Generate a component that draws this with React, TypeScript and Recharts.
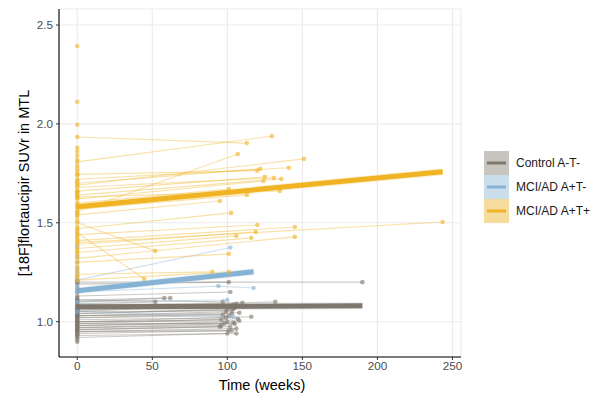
import { ComposedChart, Line, XAxis, YAxis, CartesianGrid } from 'recharts'

// visit weeks / SUVr values per subject (first visit is baseline)
const ctrlWeeks: number[][] = [
  [0, 190], [0, 101], [0, 102], [0, 52], [0, 58], [0, 62], [0, 132], [0, 110],
  [0, 106], [0, 101], [0, 104], [0, 99], [0, 103], [0, 108], [0, 116], [0, 107],
  [0, 96], [0, 100], [0, 96], [0, 102], [0, 106], [0, 100], [0, 106], [0, 95],
  [0, 105], [0, 101], [0, 98], [0, 103], [0, 100], [0, 104], [0, 97],
  [0, 103], [0, 99], [0, 105], [0, 102], [0, 108], [0, 101], [0, 97], [0, 104],
  [0], [0], [0], [0], [0], [0], [0], [0], [0],
]
const ctrlValues: number[][] = [
  [1.2, 1.2], [1.19, 1.2], [1.13, 1.15], [1.09, 1.1], [1.11, 1.12], [1.1, 1.12], [1.07, 1.1], [1.08, 1.095],
  [1.05, 1.09], [1.06, 1.08], [1.04, 1.065], [1.03, 1.05], [1.02, 1.04], [1.03, 1.045], [1.0, 1.025], [0.99, 1.015],
  [1.0, 1.01], [0.98, 1.0], [0.97, 0.98], [0.96, 0.975], [0.95, 0.965], [0.92, 0.94], [0.93, 0.94], [0.96, 0.975],
  [1.06, 1.07], [1.02, 1.03], [0.99, 0.99], [0.95, 0.955], [1.04, 1.06], [1.08, 1.085], [1.11, 1.1],
  [1.05, 1.055], [1.01, 1.02], [0.97, 0.99], [1.07, 1.075], [1.0, 1.005], [0.94, 0.955], [1.03, 1.035], [0.98, 0.995],
  [0.898], [0.91], [0.935], [1.01], [1.05], [1.12], [1.15], [1.17], [1.21],
]

const blueWeeks: number[][] = [
  [0, 102], [0, 94, 117.5], [0, 104], [0, 100],
  [0], [0], [0], [0], [0], [0], [0], [0],
]
const blueValues: number[][] = [
  [1.21, 1.375], [1.15, 1.18, 1.17], [1.05, 1.025], [1.1, 1.11],
  [1.38], [1.33], [1.3], [1.27], [1.25], [1.23], [1.18], [1.16],
]

const tauWeeks: number[][] = [
  [0, 129.7], [0, 113], [0, 107], [0, 151], [0, 141], [0, 122], [0, 120], [0, 125],
  [0, 131], [0, 136], [0, 124], [0, 101], [0, 135], [0, 113], [0, 95], [0, 102.5],
  [0, 120], [0, 145], [0, 119], [0, 106], [0, 116], [0, 145], [0, 243.5], [0, 101],
  [0, 52], [0, 44.6], [0, 90], [0, 101],
  [0], [0], [0], [0], [0], [0], [0], [0], [0], [0], [0], [0],
  [0], [0], [0], [0], [0], [0], [0], [0], [0], [0], [0],
  [0], [0], [0], [0], [0], [0],
]
const tauValues: number[][] = [
  [1.808, 1.938], [1.934, 1.903], [1.556, 1.848], [1.69, 1.823], [1.72, 1.778], [1.7, 1.773], [1.745, 1.763], [1.66, 1.732],
  [1.68, 1.727], [1.64, 1.722], [1.62, 1.711], [1.6, 1.671], [1.63, 1.661], [1.57, 1.641], [1.54, 1.61], [1.47, 1.55],
  [1.44, 1.489], [1.41, 1.479], [1.39, 1.454], [1.37, 1.434], [1.35, 1.424], [1.32, 1.429], [1.4, 1.504], [1.3, 1.343],
  [1.5, 1.358], [1.45, 1.217], [1.24, 1.252], [1.21, 1.252],
  [2.394], [2.112], [1.996], [1.88], [1.86], [1.84], [1.79], [1.76], [1.74], [1.71], [1.66], [1.63],
  [1.59], [1.53], [1.51], [1.48], [1.43], [1.42], [1.36], [1.34], [1.28], [1.26], [1.23],
  [1.82], [1.775], [1.65], [1.58], [1.55], [1.46],
]

// linear fits (start, end)
const fitWeeks: number[][] = [[0, 190], [0, 117.5], [0, 243.5]]
const fitValues: number[][] = [[1.075, 1.08], [1.157, 1.253], [1.581, 1.758]]

const groupNames = ['Control A-T-', 'MCI/AD A+T-', 'MCI/AD A+T+']
const groupColors = ['#7E776D', '#86B2D3', '#F0B323']
const ribbonColors = ['#C8C5C0', '#C9DDEA', '#F6DC9C']

const xTicks = [0, 50, 100, 150, 200, 250]
const yTicks = [1.0, 1.5, 2.0, 2.5]

const toPoints = (weeks: number[], values: number[]) =>
  weeks.map((t, i) => ({ t, v: values[i] }))

const FONT = '"Liberation Sans", Arial, sans-serif'

function subjectLines(weeks: number[][], values: number[][], g: number) {
  return weeks.map((w, i) => (
    <Line
      key={`s${g}_${i}`}
      data={toPoints(w, values[i])}
      dataKey="v"
      type="linear"
      stroke={groupColors[g]}
      strokeOpacity={0.4}
      strokeWidth={1.1}
      dot={{ r: 2.3, fill: groupColors[g], fillOpacity: 0.6, stroke: 'none' }}
      activeDot={false}
      isAnimationActive={false}
      legendType="none"
    />
  ))
}

export default function App() {
  return (
    <div style={{ position: 'absolute', left: 0, top: 0, width: 602, height: 394, background: '#fff', fontFamily: FONT }}>
      <ComposedChart width={602} height={394} margin={{ top: 9, right: 141, bottom: 0, left: 0 }}>
        <CartesianGrid stroke="#EBEBEB" strokeWidth={1.1} />
        <XAxis
          type="number"
          dataKey="t"
          domain={[-12.17, 255.7]}
          ticks={xTicks}
          height={37}
          allowDataOverflow
          axisLine={{ stroke: '#000', strokeWidth: 1.1 }}
          tickLine={{ stroke: '#333' }}
          tickSize={3}
          tickMargin={2}
          tick={{ fill: '#4D4D4D', fontSize: 11.7, fontFamily: FONT }}
        />
        <YAxis
          type="number"
          domain={[0.8215, 2.581]}
          ticks={yTicks}
          width={59}
          allowDataOverflow
          tickFormatter={(v: number) => v.toFixed(1)}
          axisLine={{ stroke: '#000', strokeWidth: 1.1 }}
          tickLine={{ stroke: '#333' }}
          tickSize={3}
          tickMargin={3}
          tick={{ fill: '#4D4D4D', fontSize: 11.7, fontFamily: FONT }}
        />
        {subjectLines(ctrlWeeks, ctrlValues, 0)}
        {subjectLines(blueWeeks, blueValues, 1)}
        {subjectLines(tauWeeks, tauValues, 2)}
        {fitWeeks.map((w, g) => (
          <Line
            key={`r${g}`}
            data={toPoints(w, fitValues[g])}
            dataKey="v"
            type="linear"
            stroke={ribbonColors[g]}
            strokeOpacity={0.45}
            strokeWidth={7}
            dot={false}
            activeDot={false}
            isAnimationActive={false}
          />
        ))}
        {fitWeeks.map((w, g) => (
          <Line
            key={`f${g}`}
            data={toPoints(w, fitValues[g])}
            dataKey="v"
            type="linear"
            stroke={groupColors[g]}
            strokeWidth={5}
            dot={false}
            activeDot={false}
            isAnimationActive={false}
          />
        ))}
      </ComposedChart>
      <svg width={602} height={394} style={{ position: 'absolute', left: 0, top: 0, pointerEvents: 'none' }}>
        <text x={262} y={390} textAnchor="middle" fontSize={14.5} fill="#000" fontFamily={FONT}>Time (weeks)</text>
        <text
          transform="translate(24,183) rotate(-90)"
          textAnchor="middle"
          dominantBaseline="central"
          fontSize={14.5}
          fill="#000"
          fontFamily={FONT}
        >
          [18F]flortaucipir SUVr in MTL
        </text>
        {groupNames.map((name, g) => (
          <g key={name}>
            <rect x={484} y={151 + g * 24} width={25} height={24} fill={ribbonColors[g]} />
            <line x1={487} x2={506} y1={163 + g * 24} y2={163 + g * 24} stroke={groupColors[g]} strokeWidth={3} />
            <text x={516} y={163 + g * 24} dominantBaseline="central" fontSize={12} fill="#1A1A1A" fontFamily={FONT}>{name}</text>
          </g>
        ))}
      </svg>
    </div>
  )
}
